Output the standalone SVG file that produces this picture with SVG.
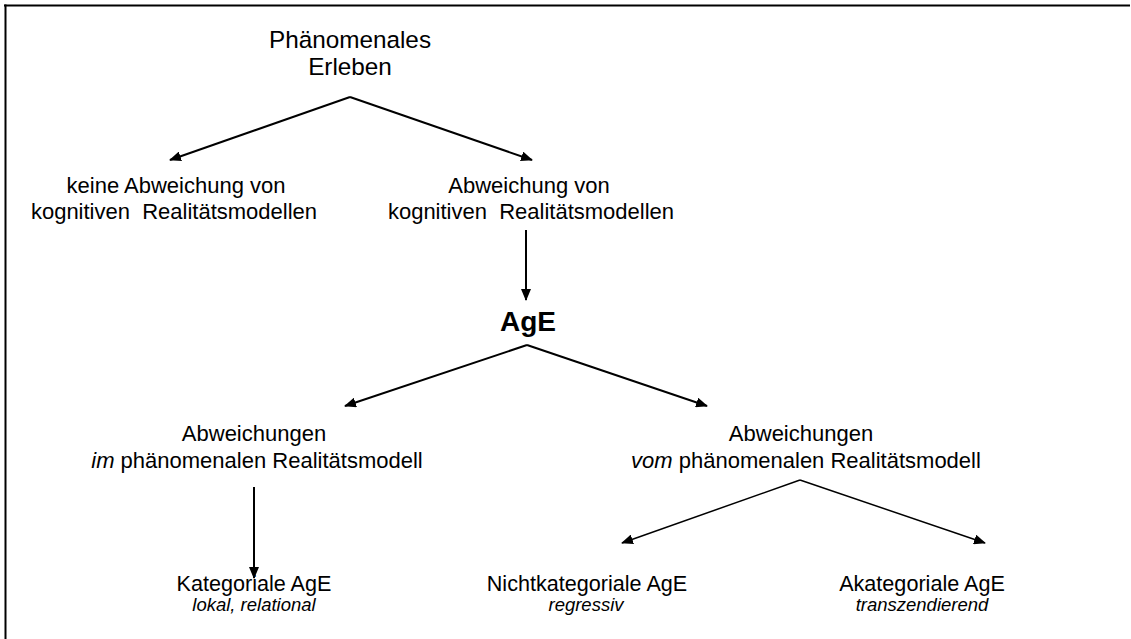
<svg xmlns="http://www.w3.org/2000/svg" width="1131" height="639" viewBox="0 0 1131 639">
<defs>
<marker id="ah" viewBox="0 0 12 10" refX="11" refY="5" markerWidth="12" markerHeight="10" markerUnits="userSpaceOnUse" orient="auto">
<path d="M0,0 L12,5 L0,10 Z" fill="#000"/>
</marker>
<style>
text{font-family:"Liberation Sans",Arial,sans-serif;fill:#000;text-anchor:middle}
.t{font-size:22px}
.h{font-size:24.3px}
.b{font-size:28px;font-weight:bold}
.n{font-size:21.6px}
.i{font-size:18.5px;font-style:italic}
.c line{stroke:#000;stroke-width:2;marker-end:url(#ah)}
.c line.thin{stroke-width:1.5}
</style>
</defs>
<rect width="1131" height="639" fill="#fff"/>
<g id="frame">
<line x1="4" y1="5.5" x2="1130" y2="5.5" stroke="#000" stroke-width="2"/>
<line x1="5.5" y1="4.5" x2="5.5" y2="639" stroke="#000" stroke-width="2"/>
</g>
<g class="c" id="connectors">
<line x1="350" y1="97" x2="170" y2="160"/>
<line x1="350" y1="97" x2="532" y2="160"/>
<line x1="526" y1="230" x2="526" y2="300"/>
<line x1="527" y1="345" x2="345" y2="406"/>
<line x1="527" y1="345" x2="707" y2="406"/>
<line x1="254" y1="487" x2="254" y2="578"/>
<line class="thin" x1="800" y1="480" x2="622" y2="543"/>
<line class="thin" x1="800" y1="480" x2="985" y2="543"/>
</g>
<g id="root"><text class="h" x="350" y="48">Phänomenales</text><text class="h" x="350" y="75">Erleben</text></g>
<g id="keine"><text class="t" x="176" y="193">keine Abweichung von</text><text class="t" x="174" y="219">kognitiven&#160; Realitätsmodellen</text></g>
<g id="abw"><text class="t" x="529" y="193">Abweichung von</text><text class="t" x="531" y="219">kognitiven&#160; Realitätsmodellen</text></g>
<g id="age"><text class="b" x="528" y="331">AgE</text></g>
<g id="im"><text class="t" x="254" y="441">Abweichungen</text><text class="t" x="257" y="468"><tspan font-style="italic">im</tspan> phänomenalen Realitätsmodell</text></g>
<g id="vom"><text class="t" x="801" y="441">Abweichungen</text><text class="t" x="806" y="468"><tspan font-style="italic">vom</tspan> phänomenalen Realitätsmodell</text></g>
<g id="kat"><text class="n" x="254" y="591">Kategoriale AgE</text><text class="i" x="254" y="611">lokal, relational</text></g>
<g id="nicht"><text class="n" x="587" y="591">Nichtkategoriale AgE</text><text class="i" x="586" y="611">regressiv</text></g>
<g id="akat"><text class="n" x="922" y="591">Akategoriale AgE</text><text class="i" x="922" y="611">transzendierend</text></g>
</svg>
